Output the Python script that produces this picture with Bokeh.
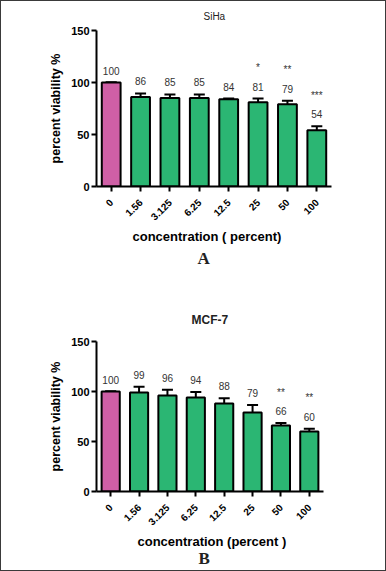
import math
from bokeh.plotting import figure
from bokeh.models import (ColumnDataSource, FactorRange, Range1d, FixedTicker,
                          Whisker, TeeHead, Title)
from bokeh.core.properties import value
from bokeh.layouts import column
from bokeh.embed import file_html
from bokeh.resources import INLINE

# ---------------- data ----------------
concentrations = ["0", "1.56", "3.125", "6.25", "12.5", "25", "50", "100"]

siha_values = [100, 86, 85, 85, 84, 81, 79, 54]
siha_errors = [0, 3.5, 3.5, 3.5, 0.5, 3.5, 3.5, 4]
siha_stars = ["", "", "", "", "", "*", "**", "***"]

mcf7_values = [100, 99, 96, 94, 88, 79, 66, 60]
mcf7_errors = [0, 5.7, 5.7, 5.5, 5.2, 7.5, 2.4, 2.7]
mcf7_stars = ["", "", "", "", "", "", "**", "**"]

y_ticks = [0, 50, 100, 150]

PINK = "#CF5FA6"
GREEN = "#2BB673"
FONT = "Liberation Sans"
W = 384


def make_panel(values, errors, stars, height, frame_left, frame_top, frame_w, frame_h,
               title, title_bold, title_off, title_valign, title_standoff,
               xlabel, xlabel_off, xlabel_standoff,
               letter, letter_off, letter_valign, letter_standoff):
    p = figure(width=W, height=height, output_backend="svg", toolbar_location=None,
               x_range=FactorRange(factors=concentrations, range_padding=0),
               y_range=Range1d(0, 150),
               min_border_left=frame_left, min_border_top=frame_top,
               min_border_right=W - frame_left - frame_w,
               min_border_bottom=height - frame_top - frame_h)
    p.frame_width = frame_w
    p.frame_height = frame_h
    p.outline_line_color = None
    p.grid.visible = False
    p.background_fill_color = "white"
    p.border_fill_color = "white"

    colors = [PINK] + [GREEN] * (len(values) - 1)
    upper = [v + e for v, e in zip(values, errors)]
    lower = [v - e for v, e in zip(values, errors)]
    src = ColumnDataSource(dict(x=concentrations, top=values, upper=upper, lower=lower,
                                color=colors, lab=[str(v) for v in values], star=stars))

    p.vbar(x="x", top="top", width=0.64, source=src, fill_color="color",
           line_color="black", line_width=2)

    w = Whisker(source=src, base="x", upper="upper", lower="lower",
                line_color="black", line_width=2,
                upper_head=TeeHead(size=11, line_width=2, line_color="black"),
                lower_head=TeeHead(size=11, line_width=2, line_color="black"))
    p.add_layout(w)

    p.text(x="x", y="upper", text="lab", source=src, y_offset=-12,
           text_align="center", text_baseline="middle",
           text_font=value(FONT), text_font_size="10px", text_color="#333333")
    p.text(x="x", y="upper", text="star", source=src, y_offset=-31,
           text_align="center", text_baseline="middle",
           text_font=value(FONT), text_font_size="10px", text_color="#333333")

    # axes
    p.yaxis.ticker = FixedTicker(ticks=y_ticks)
    p.yaxis.minor_tick_line_color = None
    p.yaxis.axis_line_width = 2
    p.yaxis.major_tick_line_width = 2
    p.yaxis.major_tick_in = 0
    p.yaxis.major_tick_out = 5
    p.yaxis.major_label_standoff = 2
    p.yaxis.major_label_text_font = FONT
    p.yaxis.major_label_text_font_style = "bold"
    p.yaxis.major_label_text_font_size = "11px"
    p.yaxis.major_label_text_color = "black"
    p.yaxis.axis_label = "percent viability %"
    p.yaxis.axis_label_text_font = FONT
    p.yaxis.axis_label_text_font_style = "bold"
    p.yaxis.axis_label_text_font_size = "12.5px"
    p.yaxis.axis_label_text_color = "black"
    p.yaxis.axis_label_standoff = 5

    p.xaxis.axis_line_width = 2
    p.xaxis.major_tick_line_width = 2
    p.xaxis.major_tick_in = 0
    p.xaxis.major_tick_out = 5
    p.xaxis.major_label_orientation = math.pi / 4
    p.xaxis.major_label_standoff = 9
    p.xaxis.major_label_text_font = FONT
    p.xaxis.major_label_text_font_style = "bold"
    p.xaxis.major_label_text_font_size = "10px"
    p.xaxis.major_label_text_color = "black"

    p.add_layout(Title(text=title, align="left", offset=title_off,
                       vertical_align=title_valign, standoff=title_standoff,
                       text_font=FONT,
                       text_font_style="bold" if title_bold else "normal",
                       text_font_size="12px" if title_bold else "10px",
                       text_color="#222222"), "above")
    p.add_layout(Title(text=xlabel, align="left", offset=xlabel_off,
                       standoff=xlabel_standoff,
                       text_font=FONT, text_font_style="bold",
                       text_font_size="13px", text_color="black"), "below")
    p.add_layout(Title(text=letter, align="left", offset=letter_off,
                       vertical_align=letter_valign, standoff=letter_standoff,
                       text_font="Liberation Serif", text_font_style="bold",
                       text_font_size="17px", text_color="#222222"), "below")
    return p


pA = make_panel(siha_values, siha_errors, siha_stars, 279, 95, 29, 235, 156,
                "SiHa", False, 107, "middle", 15,
                "concentration ( percent)", 36, 0,
                "A", 101, "bottom", 6)
pB = make_panel(mcf7_values, mcf7_errors, mcf7_stars, 290, 93, 61, 227, 150,
                "MCF-7", True, 95, "bottom", 30,
                "concentration (percent )", 41, 0,
                "B", 102, "top", 0)

layout = column(pA, pB, spacing=0, styles={"border": "1px solid #3a3a3a"})
open("out.html", "w").write(file_html(layout, INLINE))
